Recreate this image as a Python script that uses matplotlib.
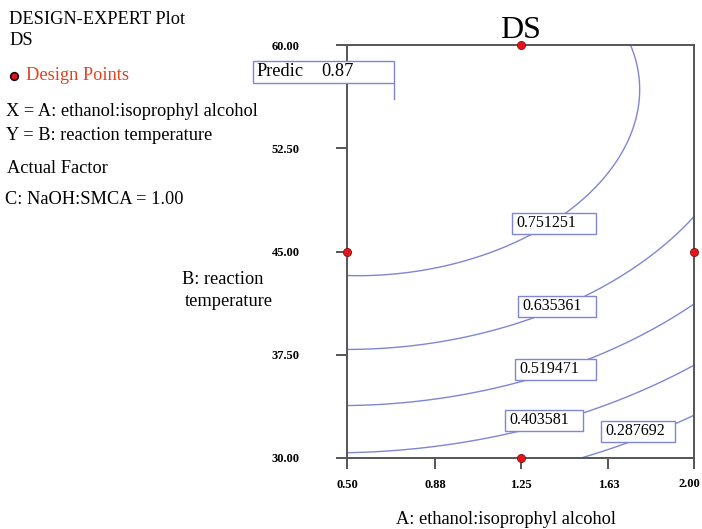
import numpy as np
import matplotlib
matplotlib.use("Agg")
import matplotlib.pyplot as plt
from matplotlib.patches import Rectangle
from matplotlib.transforms import blended_transform_factory, ScaledTranslation

# ---- data ----
x_range = [0.50, 2.00]          # A: ethanol:isoprophyl alcohol
y_range = [30.0, 60.0]          # B: reaction temperature
x_ticks = [0.50, 0.88, 1.25, 1.63, 2.00]
x_tick_labels = ["0.50", "0.88", "1.25", "1.63", "2.00"]
y_ticks = [30.0, 37.5, 45.0, 52.5, 60.0]
y_tick_labels = ["30.00", "37.50", "45.00", "52.50", "60.00"]

# quadratic response-surface model in coded units (a, b):
# DS = c0 + cA*a + cB*b + cAB*a*b + cAA*a^2 + cBB*b^2
model_terms = ["c0", "cA", "cB", "cAB", "cAA", "cBB"]
model_coefs = [0.738, -0.092, 0.244, 0.016, -0.050, -0.1625]

contour_levels = [0.287692, 0.403581, 0.519471, 0.635361, 0.751251]
contour_label_text = ["0.287692", "0.403581", "0.519471", "0.635361", "0.751251"]

design_A = [0.50, 2.00, 1.25, 1.25]
design_B = [45.0, 45.0, 30.0, 60.0]

predic_label = "Predic"
predic_value = "0.87"

# ---- layout constants (label boxes, lower-left in data coords) ----
box_ll = [(1.598, 31.16), (1.183, 31.96), (1.226, 35.67), (1.239, 40.24), (1.213, 46.27)]
box_w = [0.320, 0.337, 0.350, 0.337, 0.363]
box_h = 1.55

W, H = 702, 529
fig = plt.figure(figsize=(W / 100, H / 100), dpi=100)
ax = fig.add_axes([347 / W, 1 - 458 / H, (694 - 347) / W, (458 - 45) / H])

serif = ["Liberation Serif", "DejaVu Serif"]
line_col = "#7f86d4"

A = np.linspace(x_range[0], x_range[1], 300)
B = np.linspace(y_range[0], y_range[1], 300)
AA, BB = np.meshgrid(A, B)
a = (AA - 1.25) / 0.75
b = (BB - 45.0) / 15.0
c = dict(zip(model_terms, model_coefs))
Z = c["c0"] + c["cA"] * a + c["cB"] * b + c["cAB"] * a * b + c["cAA"] * a ** 2 + c["cBB"] * b ** 2

ax.contour(AA, BB, Z, levels=contour_levels, colors=line_col, linewidths=1.0, zorder=2)

for (x0, y0), w, t in zip(box_ll, box_w, contour_label_text):
    ax.add_patch(Rectangle((x0, y0), w, box_h, facecolor="white", edgecolor=line_col,
                           linewidth=1.0, zorder=3))
    ax.text(x0 + 0.02, y0 + box_h / 2, t, family=serif, fontsize=11.5, va="center",
            ha="left", zorder=4)

ax.scatter(design_A, design_B, s=34, c="#e3141b", edgecolors="#8a0f12", linewidths=0.6,
           zorder=6, clip_on=False)

ax.set_xlim(x_range)
ax.set_ylim(y_range)
ax.set_xticks(x_ticks)
# last x label is drawn separately, nudged so it stays inside the canvas
ax.set_xticklabels(x_tick_labels[:-1] + [""])
ax.set_yticks(y_ticks)
ax.set_yticklabels(y_tick_labels)
for s in ax.spines.values():
    s.set_color("#555555")
    s.set_linewidth(1.4)
ax.tick_params(axis="both", direction="out", length=8, width=1.4, color="#555555")
ax.tick_params(axis="x", pad=7)
ax.tick_params(axis="y", pad=26)
for lab in ax.get_xticklabels() + ax.get_yticklabels():
    lab.set_family(serif)
    lab.set_fontsize(9)
    lab.set_fontweight("bold")

trans = blended_transform_factory(ax.transData, fig.transFigure) + \
    ScaledTranslation(-5 / 100, 0, fig.dpi_scale_trans)
ax.text(x_ticks[-1], 1 - 484 / H, x_tick_labels[-1], transform=trans, family=serif,
        fontsize=9, fontweight="bold", ha="center", va="center", clip_on=False)

ax.set_title("DS", family=serif, fontsize=23, pad=0, zorder=5)

# axis labels
fs = 13.2
fig.text(506 / W, 1 - 519 / H, "A: ethanol:isoprophyl alcohol", family=serif, fontsize=fs,
         ha="center", va="center")
fig.text(182 / W, 1 - 280 / H, "B: reaction", family=serif, fontsize=fs, ha="left", va="center")
fig.text(185 / W, 1 - 301 / H, "temperature", family=serif, fontsize=fs, ha="left", va="center")

# left-side info panel
fig.text(9 / W, 1 - 20 / H, "DESIGN-EXPERT Plot", family=serif, fontsize=fs, va="center")
fig.text(9 / W, 1 - 40 / H, "DS", family=serif, fontsize=fs, va="center")
fig.text(26 / W, 1 - 75 / H, "Design Points", family=serif, fontsize=fs, va="center", color="#e8401c")
fig.add_artist(plt.Line2D([14 / W], [1 - 76 / H], marker="o", markersize=5.5,
                          markerfacecolor="#e3141b", markeredgecolor="#111111",
                          markeredgewidth=1.2, transform=fig.transFigure))
fig.text(6 / W, 1 - 112 / H, "X = A: ethanol:isoprophyl alcohol", family=serif, fontsize=fs, va="center")
fig.text(6 / W, 1 - 136 / H, "Y = B: reaction temperature", family=serif, fontsize=fs, va="center")
fig.text(7 / W, 1 - 169 / H, "Actual Factor", family=serif, fontsize=fs, va="center")
fig.text(5 / W, 1 - 199 / H, "C: NaOH:SMCA = 1.00", family=serif, fontsize=fs, va="center")

# prediction flag
fig.add_artist(Rectangle((253 / W, 1 - 82.5 / H), (394 - 253) / W, 21 / H, facecolor="white",
                         edgecolor=line_col, linewidth=1.0, transform=fig.transFigure))
fig.add_artist(plt.Line2D([394 / W, 394 / W], [1 - 82.5 / H, 1 - 99 / H], color=line_col,
                          linewidth=1.0, transform=fig.transFigure))
fig.text(256 / W, 1 - 72 / H, predic_label, family=serif, fontsize=fs, va="center")
fig.text(321 / W, 1 - 72 / H, predic_value, family=serif, fontsize=fs, va="center")

fig.savefig("out.png", dpi=100, facecolor="white")
